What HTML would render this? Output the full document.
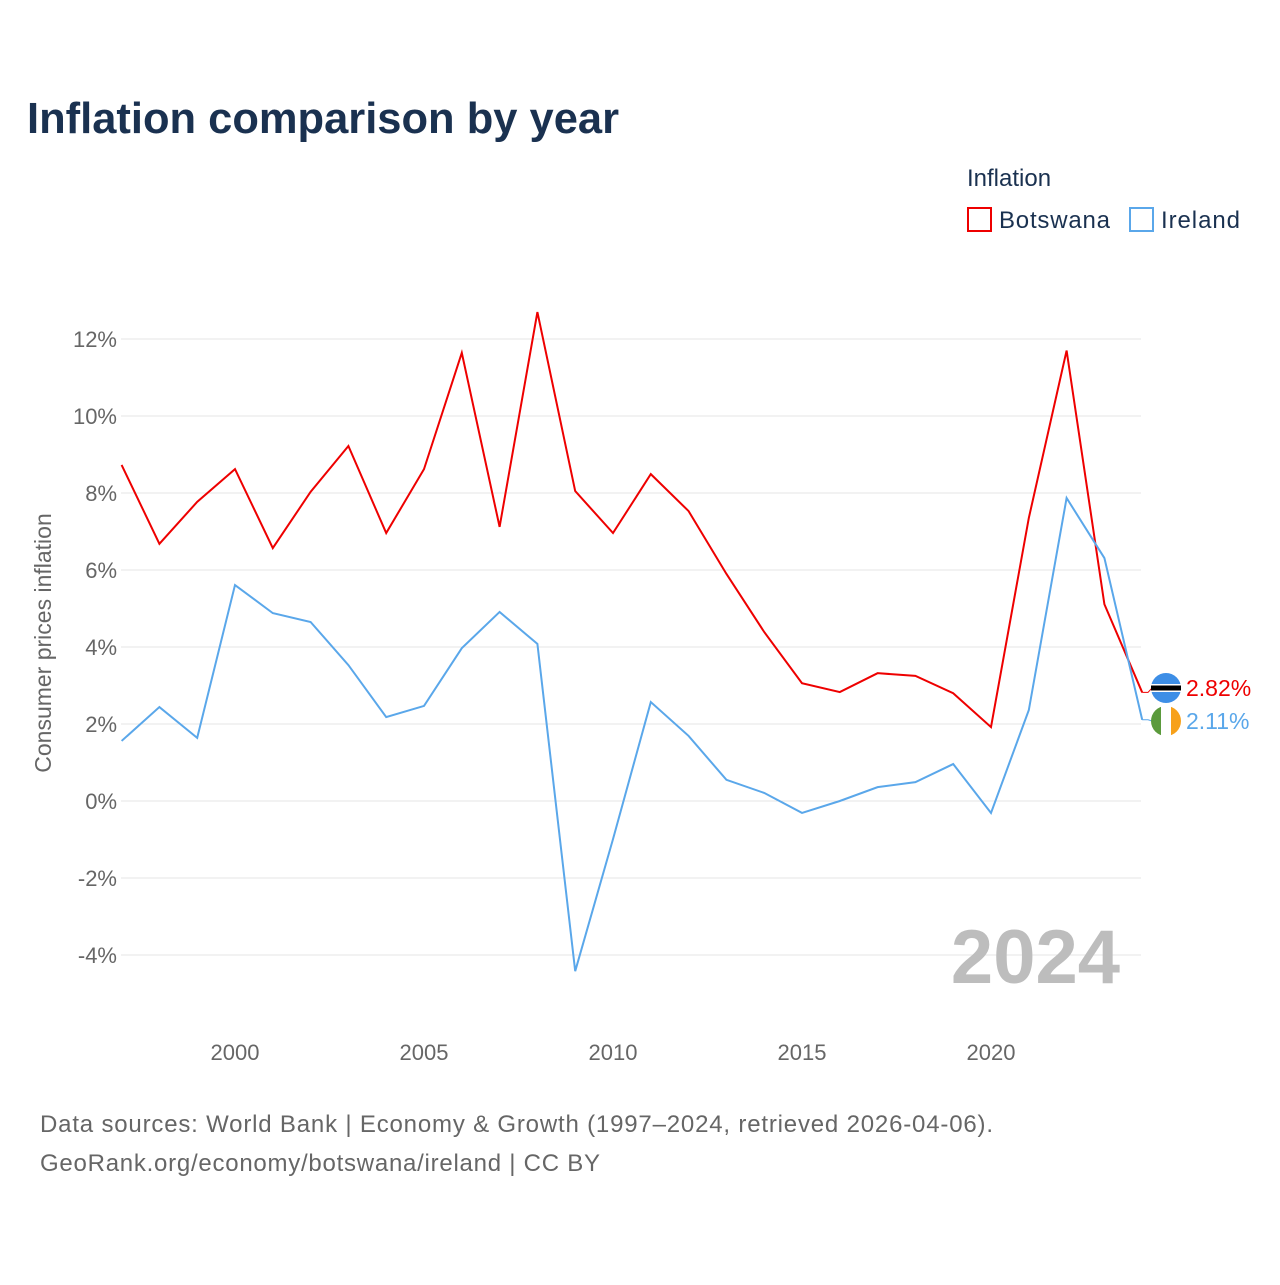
<!DOCTYPE html>
<html><head><meta charset="utf-8">
<style>
body{margin:0;background:#fff;}
svg text{font-family:"Liberation Sans",sans-serif;}
</style></head>
<body>
<svg id="chart" width="1280" height="1280" viewBox="0 0 1280 1280" xmlns="http://www.w3.org/2000/svg">
<text x="27" y="133" font-size="44" font-weight="bold" fill="#1a3150" textLength="592" lengthAdjust="spacingAndGlyphs">Inflation comparison by year</text>
<text x="967" y="186" font-size="24" fill="#1a3150">Inflation</text>
<g>
<rect x="968" y="208" width="23" height="23" fill="none" stroke="#ee0000" stroke-width="2"/>
<text x="999" y="228" font-size="24" fill="#1a3150" textLength="111">Botswana</text></g>
<g>
<rect x="1130" y="208" width="23" height="23" fill="none" stroke="#5aa7ea" stroke-width="2"/>
<text x="1161" y="228" font-size="24" fill="#1a3150" textLength="79">Ireland</text></g>
<g id="grid"></g>
<g id="yticks"></g>
<g id="xticks"></g>
<text transform="translate(51,643) rotate(-90)" text-anchor="middle" font-size="23" fill="#666">Consumer prices inflation</text>
<text x="1120" y="983" text-anchor="end" font-size="76" font-weight="bold" fill="#bdbdbd">2024</text>
<g id="series"></g>
<text x="40" y="1132" font-size="24" fill="#666" textLength="953">Data sources: World Bank | Economy &amp; Growth (1997–2024, retrieved 2026-04-06).</text>
<text x="40" y="1171" font-size="24" fill="#666" textLength="560">GeoRank.org/economy/botswana/ireland | CC BY</text>
</svg>
<script>
const years=[1997,1998,1999,2000,2001,2002,2003,2004,2005,2006,2007,2008,2009,2010,2011,2012,2013,2014,2015,2016,2017,2018,2019,2020,2021,2022,2023,2024];
const botswana=[8.73,6.68,7.77,8.62,6.57,8.03,9.22,6.96,8.62,11.64,7.12,12.7,8.05,6.96,8.49,7.53,5.9,4.39,3.06,2.83,3.32,3.25,2.8,1.92,7.35,11.7,5.11,2.82];
const ireland=[1.56,2.44,1.64,5.61,4.88,4.65,3.53,2.18,2.47,3.97,4.91,4.08,-4.42,-0.99,2.57,1.69,0.55,0.21,-0.31,0,0.36,0.49,0.96,-0.31,2.36,7.87,6.31,2.11];
const yTicks=[-4,-2,0,2,4,6,8,10,12];
const xTicks=[2000,2005,2010,2015,2020];
const NS="http://www.w3.org/2000/svg";
const xS=v=>235+(v-2000)*37.8;
const yS=v=>801-v*38.5;
function mk(tag,attrs,parent){const e=document.createElementNS(NS,tag);for(const k in attrs)e.setAttribute(k,attrs[k]);parent.appendChild(e);return e;}
const grid=document.getElementById('grid'),yt=document.getElementById('yticks'),xt=document.getElementById('xticks'),ser=document.getElementById('series');
yTicks.forEach(t=>{
const l=mk('line',{x1:121,x2:1141,y1:yS(t),y2:yS(t),stroke:'#e6e6e6','stroke-width':1},grid);


const tx=mk('text',{x:117,y:yS(t)+8,'text-anchor':'end','font-size':22,fill:'#666'},yt);
tx.textContent=t+'%';


});
xTicks.forEach(t=>{
const tx=mk('text',{x:xS(t),y:1060,'text-anchor':'middle','font-size':22,fill:'#666'},xt);
tx.textContent=t;


});
function line(vals,color,name){
const p=mk('polyline',{points:vals.map((v,i)=>xS(years[i])+','+yS(v)).join(' '),fill:'none',stroke:color,'stroke-width':2,'stroke-linejoin':'miter'},ser);


}
line(botswana,'#ee0000','botswana-line');
line(ireland,'#5aa7ea','ireland-line');
const last=years.length-1;
const bY=yS(botswana[last]),iY=yS(ireland[last]);
const bLy=688,iLy=721;
mk('polyline',{points:`${xS(years[last])},${bY} 1148,${bY} 1152,${bLy}`,fill:'none',stroke:'#ee0000','stroke-width':1},ser);
mk('polyline',{points:`${xS(years[last])},${iY} 1148,${iY} 1152,${iLy}`,fill:'none',stroke:'#5aa7ea','stroke-width':1},ser);
const bf=mk('g',{},ser);


mk('circle',{cx:1166,cy:bLy,r:15,fill:'#3d8ee6'},bf);
mk('rect',{x:1151,y:bLy-4,width:30,height:8,fill:'#fff'},bf);
mk('rect',{x:1151,y:bLy-2.5,width:30,height:5,fill:'#000'},bf);
const irf=mk('g',{},ser);


mk('clipPath',{id:'ic'},irf).appendChild(document.createElementNS(NS,'circle'));
const cc=irf.querySelector('clipPath circle');cc.setAttribute('cx',1166);cc.setAttribute('cy',iLy);cc.setAttribute('r',15);
const ig=mk('g',{'clip-path':'url(#ic)'},irf);
mk('rect',{x:1151,y:iLy-15,width:10,height:30,fill:'#5b9a3c'},ig);
mk('rect',{x:1161,y:iLy-15,width:10,height:30,fill:'#fff'},ig);
mk('rect',{x:1171,y:iLy-15,width:10,height:30,fill:'#f7a11a'},ig);
const bl=mk('text',{x:1186,y:bLy+8,'font-size':23,fill:'#ee0000'},ser);
bl.textContent=botswana[last].toFixed(2)+'%';


const il=mk('text',{x:1186,y:iLy+8,'font-size':23,fill:'#5aa7ea'},ser);
il.textContent=ireland[last].toFixed(2)+'%';


</script>
</body></html>
